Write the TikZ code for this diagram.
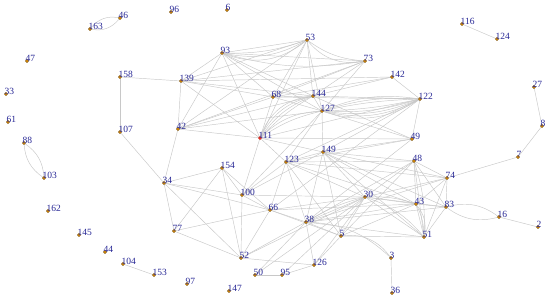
\documentclass[tikz,border=0pt]{standalone}
\usepackage{fontspec}
\setmainfont{Liberation Serif}
\usetikzlibrary{backgrounds}
\definecolor{labblue}{RGB}{40,40,150}
\definecolor{dotfill}{RGB}{225,145,10}
\definecolor{dotline}{RGB}{110,70,0}
\definecolor{redfill}{RGB}{255,50,30}
\definecolor{edgegray}{RGB}{200,200,200}
\tikzset{
  dot/.style={circle,fill=dotfill,draw=dotline,line width=0.3pt,inner sep=0pt,minimum size=3.4pt},
  reddot/.style={dot,fill=redfill,draw=redfill!70!black},
  lab/.style={anchor=base west,inner sep=0pt,text=labblue,font=\fontsize{9.5}{9.5}\selectfont},
  edge/.style={draw=edgegray,line width=0.45pt}
}
\newcommand\mynode[4][dot]{\node[#1] (n#2) at (#3,#4) {}; \node[lab] (t#2) at (#3-1.6,#4+0.3) {#2};}
\begin{document}
\begin{tikzpicture}[x=1pt,y=-1pt]
\useasboundingbox (0,0) rectangle (550,297);
\mynode{163}{90}{29}
\mynode{46}{120}{18}
\mynode{96}{171}{12}
\mynode{6}{227}{10}
\mynode{47}{27}{61}
\mynode{33}{6}{94}
\mynode{61}{8}{122}
\mynode{88}{24}{143}
\mynode{103}{44}{178}
\mynode{158}{120}{77}
\mynode{139}{181}{81}
\mynode{107}{120}{132}
\mynode{42}{178}{129}
\mynode{53}{307}{40}
\mynode{93}{222}{53}
\mynode{73}{365}{61}
\mynode{68}{273}{97}
\mynode{144}{313}{96}
\mynode{127}{322}{111}
\mynode[reddot]{111}{260}{138}
\mynode{116}{462}{24}
\mynode{124}{497}{39}
\mynode{142}{392}{77}
\mynode{122}{420}{99}
\mynode{27}{534}{87}
\mynode{8}{542}{126}
\mynode{49}{412}{139}
\mynode{34}{164}{183}
\mynode{162}{48}{211}
\mynode{145}{79}{235}
\mynode{77}{174}{231}
\mynode{44}{105}{252}
\mynode{104}{123}{264}
\mynode{153}{154}{275}
\mynode{97}{187}{284}
\mynode{149}{323}{152}
\mynode{154}{222}{168}
\mynode{123}{286}{162}
\mynode{100}{242}{195}
\mynode{66}{270}{210}
\mynode{30}{365}{197}
\mynode{38}{306}{222}
\mynode{5}{341}{236}
\mynode{52}{241}{258}
\mynode{126}{314}{265}
\mynode{50}{255}{275}
\mynode{95}{282}{275}
\mynode{147}{229}{291}
\mynode{7}{518}{157}
\mynode{48}{414}{161}
\mynode{74}{447}{178}
\mynode{43}{416}{204}
\mynode{83}{446}{207}
\mynode{16}{499}{217}
\mynode{2}{538}{227}
\mynode{51}{424}{237}
\mynode{3}{391}{258}
\mynode{36}{392}{293}
\begin{scope}[on background layer]
\fill[white] (0,0) rectangle (550,297);
\foreach \a/\b in {158/139,158/107,107/34,116/124,104/153,27/8,8/7,7/74,16/2,3/36,
 93/53,93/73,93/139,93/42,93/68,93/111,93/144,93/127,
 53/42,53/68,53/144,53/127,53/111,53/139,
 73/144,73/127,73/68,73/139,73/42,
 139/68,139/144,139/111,139/42,139/142,
 42/68,42/144,42/111,42/127,42/34,
 68/144,68/111,68/127,68/122,
 111/49,111/123,111/149,111/100,111/122,
 144/127,144/142,144/122,144/49,
 142/122,142/68,
 127/149,127/123,127/100,127/49,
 122/49,122/149,122/123,122/66,
 49/149,49/123,49/38,
 149/100,149/123,149/38,149/5,149/30,149/48,149/74,149/43,149/51,149/83,
 123/100,123/66,123/38,123/5,123/30,123/43,123/74,123/48,
 100/154,100/34,100/52,100/66,100/30,
 154/34,154/66,154/52,154/77,
 34/77,34/52,34/66,
 77/66,77/52,
 66/52,66/38,66/30,66/43,66/5,
 52/38,52/126,52/30,
 38/30,38/5,38/43,38/51,38/48,38/74,38/50,38/126,38/83,
 5/30,5/43,5/51,5/126,5/48,
 30/48,30/74,30/43,30/51,30/83,30/50,30/95,30/126,
 48/74,48/43,48/51,48/83,
 74/43,74/83,74/51,
 43/83,51/83,43/51,
 50/95,95/126}
 \draw[edge] (n\a) -- (n\b);
\foreach \a/\b/\c in {163/46/30,163/46/-30,88/103/25,88/103/-25,83/16/25,83/16/-25,
 93/53/-10,93/53/-20,93/53/-30,93/73/-12,53/73/-15,53/73/-30,
 111/144/8,111/144/16,111/144/24,111/144/32,
 111/127/10,111/127/20,
 127/122/-25,127/122/-20,127/122/-15,127/122/-10,127/122/-5,127/122/5,127/122/10,127/122/15,
 30/51/15,43/51/12,43/51/24,48/51/10,5/3/30,38/3/20,38/30/8,30/43/10}
 \draw[edge] (n\a) to[bend left=\c] (n\b);
\end{scope}
\end{tikzpicture}
\end{document}
